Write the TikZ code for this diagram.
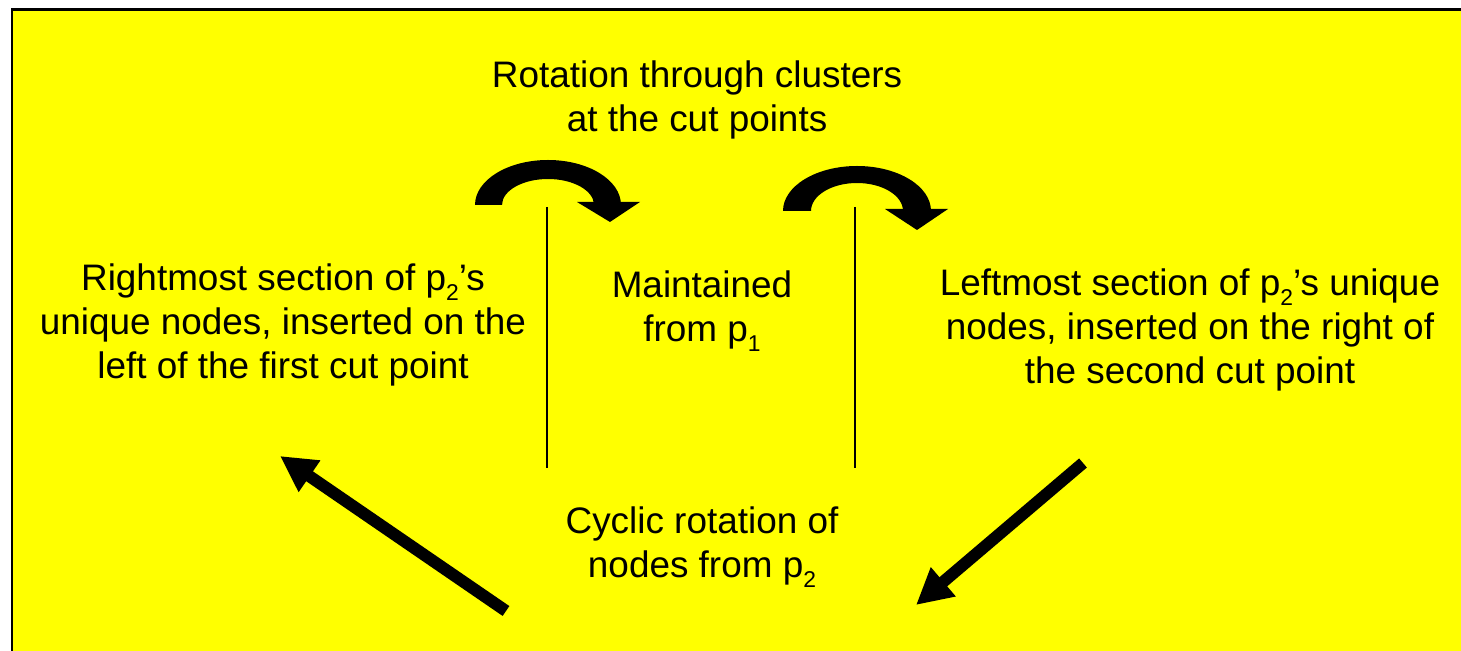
\documentclass[tikz,border=0pt]{standalone}
\usepackage{fontspec}
\setmainfont{Liberation Sans}
\usepackage{tikz}
\usetikzlibrary{arrows.meta}
\definecolor{slideyellow}{RGB}{255,255,0}
\newcommand{\subs}[1]{\raisebox{-0.28em}{\fontsize{13}{13}\selectfont #1}}

\begin{document}
\begin{tikzpicture}[
    x=0.02cm, y=-0.02cm,
    every node/.style={align=center, inner sep=0pt, anchor=north,
        font=\fontsize{21}{25}\selectfont},
    blockarrow/.style={line width=6.8pt, -{Triangle[length=20.4pt, width=20.4pt]}},
    cutline/.style={line width=1.1pt}
]
\useasboundingbox (0,0) rectangle (1461,651);
\clip (0,0) rectangle (1461,651);
\draw[fill=slideyellow, line width=1.7pt] (12,10) rectangle (1490,680);

\node (rotlabel) at (697,60.5) {Rotation through clusters\\at the cut points};
\node (leftsec) at (283,263.5) {Rightmost section of p\subs{2}’s\\unique nodes, inserted on the\\left of the first cut point};
\node (kept) at (702,270.5) {Maintained\\from p\subs{1}};
\node (rightsec) at (1190,268.5) {Leftmost section of p\subs{2}’s unique\\nodes, inserted on the right of\\the second cut point};
\node (cyclic) at (702,506.5) {Cyclic rotation of\\nodes from p\subs{2}};

% cut points
\draw[cutline] (547,207) -- (547,468);
\draw[cutline] (855,207) -- (855,468);

% rotation at the cut points
\fill (475,205) arc[start angle=180, end angle=360, x radius=73, y radius=45]
    -- (594,205) arc[start angle=360, end angle=180, x radius=46, y radius=26] -- cycle;
\fill (577,202) -- (640,202) -- (610,222) -- cycle;
\fill (783,211) arc[start angle=180, end angle=360, x radius=74, y radius=45]
    -- (903,211) arc[start angle=360, end angle=180, x radius=46, y radius=28] -- cycle;
\fill (885,209) -- (948,209) -- (917,230) -- cycle;

% cyclic rotation
\coordinate (ltail) at (506,611);
\coordinate (lhead) at (280,456);
\coordinate (rtail) at (1083,463);
\coordinate (rhead) at (916,605);
\draw[blockarrow] (ltail) -- (lhead);
\draw[blockarrow] (rtail) -- (rhead);
\end{tikzpicture}
\end{document}
